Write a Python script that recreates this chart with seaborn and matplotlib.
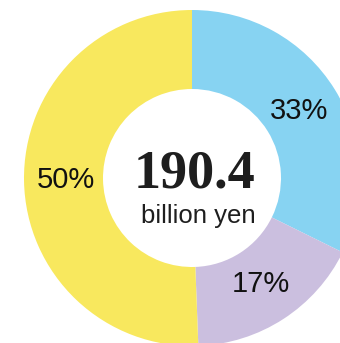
import matplotlib
matplotlib.use("Agg")
import matplotlib.pyplot as plt
import seaborn as sns

# shares of the 190.4 billion yen total
segments = ["blue", "purple", "yellow"]
shares = [32.3, 17.1, 50.6]
pct_labels = ["33%", "17%", "50%"]
seg_colors = ["#87D3F2", "#CBBFDF", "#F8E85E"]
total_value = "190.4"
total_unit = "billion yen"

sns.set_theme(style="white")
plt.rcParams["font.family"] = ["Liberation Sans", "DejaVu Sans"]

W, H = 340, 343
fig = plt.figure(figsize=(W / 100, H / 100), dpi=100)
ax = fig.add_axes([0, 0, 1, 1])

cx, cy = 192, 165
r_out, r_in = 168, 89

wedges, texts = ax.pie(shares, labels=pct_labels, colors=seg_colors,
                       startangle=90, counterclock=False,
                       center=(cx, cy), radius=r_out,
                       labeldistance=0.75,
                       wedgeprops=dict(width=r_out - r_in, linewidth=0),
                       textprops=dict(fontsize=21, color="#111111"),
                       frame=True)
for t in texts:
    t.set_ha("center")
    t.set_va("center")

ax.set_xlim(0, W)
ax.set_ylim(0, H)
ax.set_aspect("equal")
ax.axis("off")

ax.text(cx + 2, cy + 3, total_value, ha="center", va="center",
        fontsize=39, fontweight="bold", family="Liberation Serif", color="#1e1e1e")
ax.text(cx + 6, cy - 45, total_unit, ha="center", va="baseline",
        fontsize=18.5, color="#1e1e1e")

fig.savefig("out.png", dpi=100)
